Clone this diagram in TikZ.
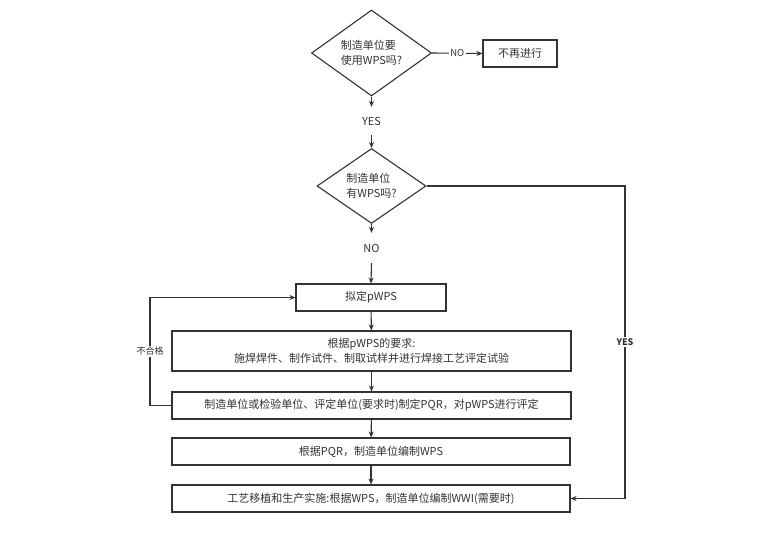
\documentclass[tikz,border=0pt]{standalone}
\usepackage{fontspec}
\setmainfont{Noto Sans CJK SC}
\usetikzlibrary{shapes.geometric,arrows.meta}
\definecolor{xam}{HTML}{333333}

\begin{document}
\begin{tikzpicture}[
  x=1pt, y=-1pt,
  every node/.style={text=xam, font=\fontsize{11}{14.5}\selectfont},
  hop/.style={draw=xam, line width=1.1pt, minimum height=27pt, inner sep=0pt},
  thoi/.style={draw=xam, line width=1.1pt, diamond, inner sep=0pt, align=left},
  nhan/.style={inner sep=1pt, minimum height=28pt},
  nho/.style={fill=white, inner sep=1.5pt, font=\fontsize{9.5}{11}\selectfont},
  muiten/.style={draw=xam, line width=1.1pt, -{Stealth[length=6pt,width=5pt]}}
]
  \useasboundingbox (0,0) rectangle (771,552);

  \node[thoi, minimum width=120pt, minimum height=70pt] (d1) at (371.5,53) {制造单位要\\使用WPS吗?};
  \node[hop, minimum width=74pt] (stop) at (520,53.5) {不再进行};
  \node[nhan] (yes) at (371.5,121) {YES};
  \node[thoi, minimum width=109pt, minimum height=62pt] (d2) at (371.5,186) {制造单位\\有WPS吗?};
  \node[nhan, minimum height=30pt] (no) at (371.5,248) {NO};
  \node[hop, minimum width=150pt] (b1) at (371,297.5) {拟定pWPS};
  \node[hop, minimum width=399pt, minimum height=40pt, align=center] (b2) at (371.5,351) {根据pWPS的要求:\\施焊焊件、制作试件、制取试样并进行焊接工艺评定试验};
  \node[hop, minimum width=399pt] (b3) at (371.5,405.5) {制造单位或检验单位、评定单位(要求时)制定PQR，对pWPS进行评定};
  \node[hop, minimum width=398pt] (b4) at (371,451.5) {根据PQR，制造单位编制WPS};
  \node[hop, minimum width=398pt] (b5) at (371,498.5) {工艺移植和生产实施:根据WPS，制造单位编制WWI(需要时)};

  % các mũi tên chính
  \draw[muiten] (d1.east) -- node[nho]{NO} (stop.west);
  \draw[muiten] (d1.south) -- (yes.north);
  \draw[muiten] (yes.south) -- (d2.north);
  \draw[muiten] (d2.south) -- (no.north);
  \draw[muiten] (no.south) -- (b1.north);
  \draw[muiten] (b1) -- (b2);
  \draw[muiten] (b2) -- (b3);
  \draw[muiten] (b3) -- (b4);
  \draw[muiten] (b4) -- (b5);

  % nhánh YES bên phải
  \coordinate (r) at (625,186);
  \draw[muiten] (d2.east) -- (r) |- node[pos=0.25, nho, font=\fontsize{9}{11}\selectfont\bfseries]{YES} (b5.east);

  % vòng lặp không đạt
  \coordinate (l) at (150,405.5);
  \draw[muiten] (b3.west) -- (l) |- node[pos=0.25, nho, font=\fontsize{9}{11}\selectfont]{不合格} (b1.west);
\end{tikzpicture}
\end{document}
